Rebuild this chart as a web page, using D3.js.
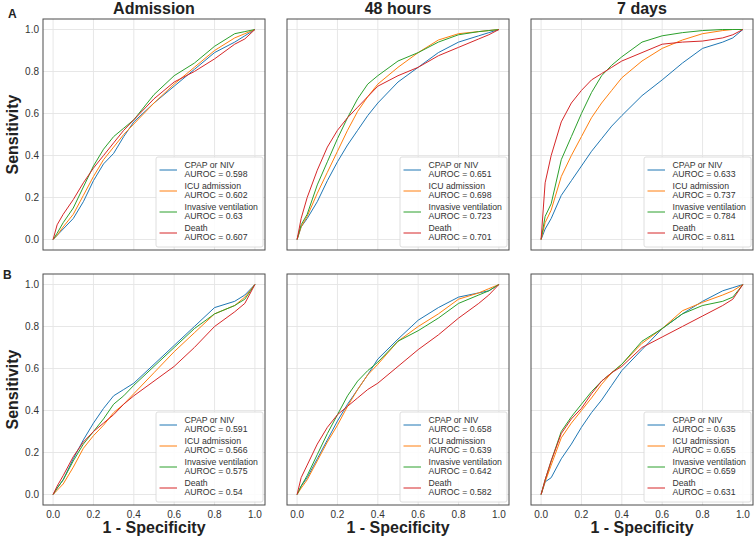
<!DOCTYPE html>
<html>
<head>
<meta charset="utf-8">
<script src="https://cdn.jsdelivr.net/npm/d3@7"></script>
<style>
  body { margin: 0; background: #fff; }
  svg { font-family: "Liberation Sans", Arial, sans-serif; }
  .tick-label { font-size: 10px; fill: #333; }
  .leg-text { font-size: 8.7px; fill: #333; }
  .bold { font-weight: bold; fill: #222; }
</style>
</head>
<body>
<svg id="chart" width="755" height="540"></svg>
<script>
// shared false positive rate grid (1 - specificity)
const fprGrid = [0, 0.02, 0.05, 0.1, 0.15, 0.2, 0.25, 0.3, 0.35, 0.4, 0.5, 0.6, 0.7, 0.8, 0.9, 0.95, 1];
const outcomes = ["CPAP or NIV", "ICU admission", "Invasive ventilation", "Death"];
const colors = ["#1f77b4", "#ff7f0e", "#2ca02c", "#d62728"];
const timepoints = ["Admission", "48 hours", "7 days"];
const rowLabels = ["A", "B"];
const ticks = [0, 0.2, 0.4, 0.6, 0.8, 1.0];

// sensitivity read at each fprGrid value, one row per outcome
const tprA_adm = [
  [0, .02, .05, .10, .18, .28, .36, .41, .49, .56, .65, .73, .81, .89, .94, .97, 1],
  [0, .02, .06, .12, .21, .30, .38, .44, .50, .55, .65, .74, .82, .90, .96, .98, 1],
  [0, .03, .08, .15, .25, .35, .43, .49, .53, .57, .69, .78, .84, .92, .98, .99, 1],
  [0, .07, .12, .19, .27, .34, .40, .46, .52, .57, .67, .75, .80, .86, .93, .955, 1]
];
const tprA_48h = [
  [0, .06, .10, .18, .28, .37, .45, .52, .59, .65, .75, .82, .89, .94, .97, .985, 1],
  [0, .06, .11, .22, .32, .42, .52, .61, .68, .74, .82, .89, .95, .98, .99, .995, 1],
  [0, .07, .12, .26, .37, .48, .58, .67, .74, .78, .85, .89, .94, .975, .99, .995, 1],
  [0, .10, .20, .33, .44, .52, .58, .63, .68, .73, .78, .82, .875, .915, .955, .975, 1]
];
const tprA_7d = [
  [0, .05, .10, .21, .28, .35, .42, .48, .54, .59, .685, .76, .84, .91, .94, .96, 1],
  [0, .08, .14, .30, .40, .49, .58, .65, .71, .77, .85, .91, .95, .98, .995, 1, 1],
  [0, .11, .17, .38, .49, .60, .70, .78, .83, .87, .94, .97, .985, .995, 1, 1, 1],
  [0, .27, .40, .56, .65, .71, .76, .79, .82, .85, .89, .93, .94, .945, .96, .975, 1]
];
const tprB_adm = [
  [0, .03, .07, .17, .26, .34, .41, .47, .50, .53, .62, .71, .80, .89, .92, .95, 1],
  [0, .02, .05, .13, .22, .28, .33, .39, .43, .48, .58, .68, .77, .86, .90, .94, 1],
  [0, .03, .07, .16, .24, .30, .36, .43, .47, .52, .61, .70, .79, .86, .90, .93, 1],
  [0, .04, .09, .18, .25, .30, .34, .38, .43, .47, .54, .61, .70, .80, .87, .91, 1]
];
const tprB_48h = [
  [0, .04, .08, .17, .26, .35, .43, .50, .57, .645, .74, .83, .89, .94, .96, .97, 1],
  [0, .03, .07, .16, .25, .33, .42, .50, .57, .62, .73, .80, .86, .93, .96, .98, 1],
  [0, .04, .09, .19, .29, .38, .47, .54, .59, .63, .73, .78, .84, .91, .95, .97, 1],
  [0, .08, .14, .24, .32, .38, .42, .46, .50, .53, .61, .69, .76, .84, .91, .95, 1]
];
const tprB_7d = [
  [0, .06, .08, .17, .24, .32, .39, .45, .52, .59, .69, .79, .86, .92, .97, .985, 1],
  [0, .06, .14, .27, .34, .40, .46, .525, .58, .62, .72, .79, .875, .915, .95, .97, 1],
  [0, .07, .16, .30, .37, .43, .49, .54, .58, .62, .73, .79, .86, .90, .92, .94, 1],
  [0, .07, .16, .29, .36, .41, .48, .54, .58, .61, .70, .75, .80, .85, .90, .93, 1]
];

const aucA_adm = [0.598, 0.602, 0.63, 0.607];
const aucA_48h = [0.651, 0.698, 0.723, 0.701];
const aucA_7d = [0.633, 0.737, 0.784, 0.811];
const aucB_adm = [0.591, 0.566, 0.575, 0.54];
const aucB_48h = [0.658, 0.639, 0.642, 0.582];
const aucB_7d = [0.635, 0.655, 0.659, 0.631];

const panels = [
  {row: 0, col: 0, tpr: tprA_adm, auc: aucA_adm},
  {row: 0, col: 1, tpr: tprA_48h, auc: aucA_48h},
  {row: 0, col: 2, tpr: tprA_7d, auc: aucA_7d},
  {row: 1, col: 0, tpr: tprB_adm, auc: aucB_adm},
  {row: 1, col: 1, tpr: tprB_48h, auc: aucB_48h},
  {row: 1, col: 2, tpr: tprB_7d, auc: aucB_7d}
];

const colX = [43, 287, 531];
const rowY = [19, 274];
const pw = 222, ph = 231;

const svg = d3.select("#chart");

panels.forEach(p => {
  const x0 = colX[p.col], y0 = rowY[p.row];
  const x = d3.scaleLinear().domain([-0.05, 1.05]).range([x0, x0 + pw]);
  const y = d3.scaleLinear().domain([-0.05, 1.05]).range([y0 + ph, y0]);
  const g = svg.append("g");

  // grid
  g.selectAll(".gx").data(ticks).enter().append("line")
    .attr("x1", d => x(d)).attr("x2", d => x(d))
    .attr("y1", y0).attr("y2", y0 + ph)
    .attr("stroke", "#e4e4e4").attr("stroke-width", 0.9);
  g.selectAll(".gy").data(ticks).enter().append("line")
    .attr("y1", d => y(d)).attr("y2", d => y(d))
    .attr("x1", x0).attr("x2", x0 + pw)
    .attr("stroke", "#e4e4e4").attr("stroke-width", 0.9);

  // curves
  const line = d3.line().x((d, i) => x(fprGrid[i])).y(d => y(d));
  p.tpr.forEach((s, k) => {
    g.append("path").attr("d", line(s))
      .attr("fill", "none").attr("stroke", colors[k]).attr("stroke-width", 1);
  });

  // frame
  g.append("rect").attr("x", x0).attr("y", y0).attr("width", pw).attr("height", ph)
    .attr("fill", "none").attr("stroke", "#4d4d4d").attr("stroke-width", 1);

  // tick labels
  if (p.col === 0) {
    g.selectAll(".yl").data(ticks).enter().append("text")
      .attr("class", "tick-label")
      .attr("x", x0 - 4).attr("y", d => y(d) + 3.5)
      .attr("text-anchor", "end").text(d => d3.format(".1f")(d));
  }
  if (p.row === 1) {
    g.selectAll(".xl").data(ticks).enter().append("text")
      .attr("class", "tick-label")
      .attr("x", d => x(d)).attr("y", y0 + ph + 13)
      .attr("text-anchor", "middle").text(d => d3.format(".1f")(d));
  }

  // legend
  const lw = 107, lh = 90;
  const lx = x0 + pw - 2 - lw, ly = y0 + ph - 3 - lh;
  const leg = g.append("g").attr("transform", `translate(${lx},${ly})`);
  leg.append("rect").attr("width", lw).attr("height", lh).attr("rx", 2)
    .attr("fill", "#fff").attr("fill-opacity", 0.85)
    .attr("stroke", "#d6d6d6").attr("stroke-width", 0.8);
  outcomes.forEach((name, k) => {
    const cy = 13 + 21 * k;
    leg.append("line").attr("x1", 3.5).attr("x2", 21).attr("y1", cy).attr("y2", cy)
      .attr("stroke", colors[k]).attr("stroke-width", 1);
    leg.append("text").attr("class", "leg-text").attr("x", 28.5).attr("y", cy - 2.2).text(name);
    leg.append("text").attr("class", "leg-text").attr("x", 28.5).attr("y", cy + 6.8)
      .text("AUROC = " + p.auc[k]);
  });
});

// column titles
timepoints.forEach((t, i) => {
  svg.append("text").attr("class", "bold").attr("font-size", 16)
    .attr("x", colX[i] + pw / 2).attr("y", 14).attr("text-anchor", "middle").text(t);
});

// row labels
svg.append("text").attr("class", "bold").attr("font-size", 12).attr("x", 8).attr("y", 18).text(rowLabels[0]);
svg.append("text").attr("class", "bold").attr("font-size", 12).attr("x", 3).attr("y", 279).text(rowLabels[1]);

// axis titles
rowY.forEach(ry => {
  svg.append("text").attr("class", "bold").attr("font-size", 16)
    .attr("transform", `translate(18,${ry + ph / 2}) rotate(-90)`)
    .attr("text-anchor", "middle").text("Sensitivity");
});
colX.forEach(cx => {
  svg.append("text").attr("class", "bold").attr("font-size", 16)
    .attr("x", cx + pw / 2).attr("y", 533).attr("text-anchor", "middle").text("1 - Specificity");
});
</script>
</body>
</html>
